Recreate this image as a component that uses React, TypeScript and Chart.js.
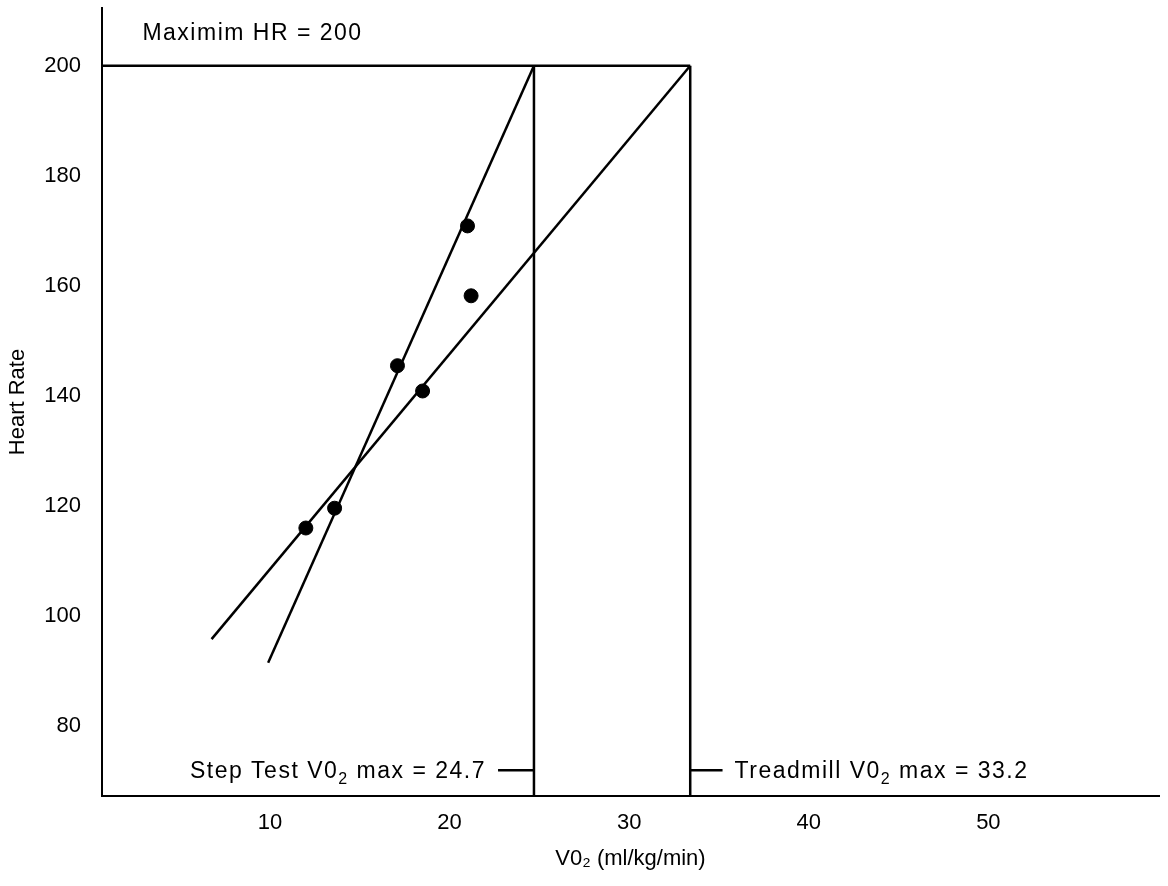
import { useEffect, useRef } from "react";
import { Chart, registerables } from "chart.js";

Chart.register(...registerables);

const FONT = '"Liberation Sans", Arial, Helvetica, sans-serif';

// Axis ranges and ticks
const xRange = [0.65, 59.5];
const yRange = [67.3, 210.5];
const xTicks = [10, 20, 30, 40, 50];
const yTicks = [80, 100, 120, 140, 160, 180, 200];

// Measured points (V02, heart rate)
const pointsX = [12.0, 13.6, 17.1, 18.5, 21.0, 21.2];
const pointsY = [116.0, 119.6, 145.5, 140.9, 170.9, 158.2];

// Regression lines
const stepLineX = [9.9, 24.7];
const stepLineY = [91.5, 200];
const treadLineX = [6.75, 33.4];
const treadLineY = [95.8, 200];

// Reference lines
const maxHR = 200;
const stepMaxX = 24.7;
const treadMaxX = 33.4;
const labelLevelY = 72;
const stepDashX = [22.7, 24.7];
const treadDashX = [33.4, 35.2];

// Text labels
const maxHRText = "Maximim HR = 200";
const maxHRPos = [2.9, 206.2];
const stepText: [string, boolean][] = [["Step Test V0", false], ["2", true], [" max = 24.7", false]];
const treadText: [string, boolean][] = [["Treadmill V0", false], ["2", true], [" max = 33.2", false]];

const lineStyle = {
  type: "scatter" as const,
  showLine: true,
  borderColor: "#000",
  borderWidth: 2.5,
  pointRadius: 0,
  fill: false,
};

function seg(xs: number[], ys: number[]) {
  return xs.map((x, i) => ({ x, y: ys[i] }));
}

const annotationPlugin = {
  id: "annotations",
  afterDatasetsDraw(chart: any) {
    const { ctx } = chart;
    const xs = chart.scales.x;
    const ys = chart.scales.y;
    const MAIN = 23;
    const SUB = 16;
    const drawParts = (parts: [string, boolean][], px: number, py: number, align: "left" | "right") => {
      ctx.save();
      ctx.fillStyle = "#000";
      ctx.textBaseline = "alphabetic";
      ctx.textAlign = "left";
      (ctx as any).letterSpacing = "1.5px";
      let total = 0;
      for (const [t, sub] of parts) {
        ctx.font = `${sub ? SUB : MAIN}px ${FONT}`;
        total += ctx.measureText(t).width;
      }
      let cx = align === "left" ? px : px - total;
      for (const [t, sub] of parts) {
        ctx.font = `${sub ? SUB : MAIN}px ${FONT}`;
        ctx.fillText(t, cx, sub ? py + 6 : py);
        cx += ctx.measureText(t).width;
      }
      ctx.restore();
    };
    drawParts([[maxHRText, false]], xs.getPixelForValue(maxHRPos[0]), ys.getPixelForValue(maxHRPos[1]) + 8, "left");
    drawParts(stepText, xs.getPixelForValue(stepDashX[0]) - 12, ys.getPixelForValue(labelLevelY) + 8, "right");
    drawParts(treadText, xs.getPixelForValue(treadDashX[1]) + 12, ys.getPixelForValue(labelLevelY) + 8, "left");
  },
};

export default function App() {
  const ref = useRef<HTMLCanvasElement | null>(null);
  useEffect(() => {
    if (!ref.current) return;
    const chart = new Chart(ref.current, {
      type: "scatter",
      data: {
        datasets: [
          { ...lineStyle, label: "Step test", data: seg(stepLineX, stepLineY) },
          { ...lineStyle, label: "Treadmill", data: seg(treadLineX, treadLineY) },
          { ...lineStyle, label: "Max HR", data: seg([xRange[0], treadMaxX], [maxHR, maxHR]) },
          { ...lineStyle, label: "Step max", data: seg([stepMaxX, stepMaxX], [maxHR, yRange[0]]) },
          { ...lineStyle, label: "Treadmill max", data: seg([treadMaxX, treadMaxX], [maxHR, yRange[0]]) },
          { ...lineStyle, label: "Step dash", data: seg(stepDashX, [labelLevelY, labelLevelY]) },
          { ...lineStyle, label: "Tread dash", data: seg(treadDashX, [labelLevelY, labelLevelY]) },
          {
            type: "scatter",
            label: "Points",
            data: seg(pointsX, pointsY),
            backgroundColor: "#000",
            borderColor: "#000",
            pointRadius: 7,
            pointHoverRadius: 7,
          },
        ],
      },
      options: {
        animation: false,
        responsive: false,
        events: [],
        layout: { padding: { left: 0, right: 9, top: 8, bottom: 0 } },
        plugins: { legend: { display: false }, tooltip: { enabled: false } },
        scales: {
          x: {
            type: "linear",
            min: xRange[0],
            max: xRange[1],
            afterBuildTicks: (s: any) => {
              s.ticks = xTicks.map((v) => ({ value: v }));
            },
            afterFit: (s: any) => {
              s.height = 90;
              s.paddingLeft = 0;
              s.paddingRight = 0;
            },
            grid: { display: true, drawOnChartArea: false, drawTicks: false },
            border: { display: true, color: "#000", width: 2 },
            ticks: { color: "#000", font: { family: FONT, size: 22 }, padding: 14, maxRotation: 0 },
            title: {
              display: true,
              text: "V0₂ (ml/kg/min)",
              color: "#000",
              font: { family: FONT, size: 22 },
              padding: { top: 0, bottom: 14 },
            },
          },
          y: {
            type: "linear",
            min: yRange[0],
            max: yRange[1],
            afterBuildTicks: (s: any) => {
              s.ticks = yTicks.map((v) => ({ value: v }));
            },
            afterFit: (s: any) => {
              s.width = 102;
              s.paddingTop = 0;
              s.paddingBottom = 0;
            },
            grid: { display: true, drawOnChartArea: false, drawTicks: false },
            border: { display: true, color: "#000", width: 2 },
            ticks: { color: "#000", font: { family: FONT, size: 22 }, padding: 21 },
            title: {
              display: true,
              text: "Heart Rate",
              color: "#000",
              font: { family: FONT, size: 22 },
              padding: { top: 5, bottom: 0 },
            },
          },
        },
      },
      plugins: [annotationPlugin],
    } as any);
    return () => chart.destroy();
  }, []);
  return (
    <div style={{ position: "absolute", left: 0, top: 0, width: 1168, height: 886, background: "#fff" }}>
      <canvas ref={ref} width={1168} height={886} style={{ display: "block" }} />
    </div>
  );
}
